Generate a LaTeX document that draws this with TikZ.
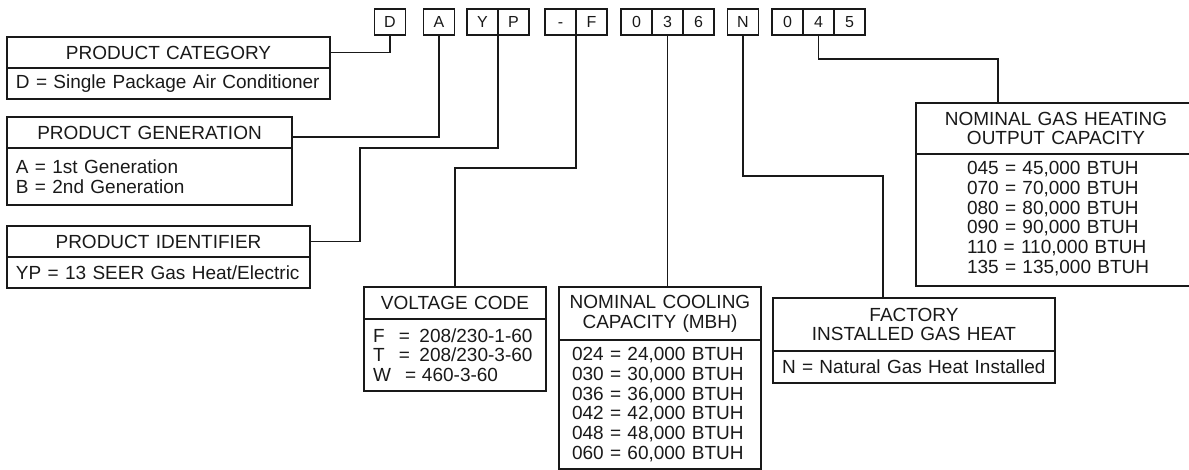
\documentclass[tikz,border=0pt]{standalone}
\usepackage{fontspec}
\setmainfont{Liberation Sans}
\usetikzlibrary{positioning}
\newcommand\keyfont{\fontsize{19}{19.7}\selectfont}
\newcommand\codefont{\fontsize{16}{16}\selectfont}

\begin{document}
\begin{tikzpicture}[x=1pt, y=-1pt, color=black!90, line width=1.6pt,
        letter/.style = {draw, minimum width=31pt, minimum height=26pt, inner sep=0pt, outer sep=0pt, text height=11.5pt, text depth=0pt, font=\codefont},
        title/.style = {draw, inner sep=0pt, outer sep=0pt, align=center, font=\keyfont},
        entry/.style = {draw, inner ysep=0pt, inner xsep=9pt, outer sep=0pt, align=left, font=\keyfont}
    ]
    \useasboundingbox (0,0) rectangle (1189,470);

    % Code letters
    \node (d) [letter] at (390,22) {D};
    \node (a) [letter] at (439,22) {A};
    \node (y) [letter] at (482.5,22) {Y};
    \node (p) [letter, right=0pt of y] {P};
    \node (dash) [letter] at (560.5,22) {-};
    \node (f) [letter, right=0pt of dash] {F};
    \node (zero) [letter] at (636.5,22) {0};
    \node (three) [letter, right=0pt of zero] {3};
    \node (six) [letter, right=0pt of three] {6};
    \node (n) [letter] at (743,22) {N};
    \node (hzero) [letter] at (787.5,22) {0};
    \node (four) [letter, right=0pt of hzero] {4};
    \node (five) [letter, right=0pt of four] {5};

    % Key boxes
    \node (cattitle) [title, text width=323pt, minimum height=31pt, anchor=north west] at (7,37) {PRODUCT CATEGORY};
    \node (catbody) [entry, text width=305pt, minimum height=31pt, below=0pt of cattitle] {D = Single Package Air Conditioner};

    \node (gentitle) [title, text width=285pt, minimum height=31pt, anchor=north west] at (7,117) {PRODUCT GENERATION};
    \node (genbody) [entry, text width=267pt, minimum height=57pt, below=0pt of gentitle] {A = 1st Generation\\B = 2nd Generation};

    \node (idtitle) [title, text width=303pt, minimum height=31pt, anchor=north west] at (7,226) {PRODUCT IDENTIFIER};
    \node (idbody) [entry, text width=285pt, minimum height=31pt, below=0pt of idtitle] {YP = 13 SEER Gas Heat/Electric};

    \node (volttitle) [title, text width=182pt, minimum height=32pt, anchor=north west] at (364,287) {VOLTAGE CODE};
    \node (voltbody) [entry, text width=164pt, minimum height=72pt, below=0pt of volttitle] {F\hspace{0.75em}=\hspace{0.5em}208/230-1-60\\T\hspace{0.75em}=\hspace{0.5em}208/230-3-60\\W\hspace{0.75em}=\hspace{0.3em}460-3-60};

    \node (cooltitle) [title, text width=202pt, minimum height=53pt, anchor=north west] at (559,287) {NOMINAL COOLING\\CAPACITY (MBH)};
    \node (coolbody) [entry, inner xsep=13pt, text width=176pt, minimum height=129pt, below=0pt of cooltitle] {024 = 24,000 BTUH\\030 = 30,000 BTUH\\036 = 36,000 BTUH\\042 = 42,000 BTUH\\048 = 48,000 BTUH\\060 = 60,000 BTUH};

    \node (facttitle) [title, text width=282pt, minimum height=53pt, anchor=north west] at (773,298) {FACTORY\\INSTALLED GAS HEAT};
    \node (factbody) [entry, text width=264pt, minimum height=32pt, below=0pt of facttitle] {N = Natural Gas Heat Installed};

    \node (heattitle) [title, text width=280pt, minimum height=51pt, anchor=north west] at (916,103) {NOMINAL GAS HEATING\\OUTPUT CAPACITY};
    \node (heatbody) [entry, inner xsep=51pt, text width=178pt, minimum height=132pt, below=0pt of heattitle] {\begin{tabular}{@{}l@{}}045 = 45,000 BTUH\\070 = 70,000 BTUH\\080 = 80,000 BTUH\\090 = 90,000 BTUH\\110 = 110,000 BTUH\\135 = 135,000 BTUH\end{tabular}};

    % Bends
    \coordinate (ybend) at (360,148);
    \coordinate (fbend) at (455,168);
    \coordinate (nbend) at (883,176);
    \coordinate (hbend) at (998,59);

    % Connectors
    \draw (d.south) |- (cattitle.east);
    \draw (a.south) |- ([yshift=-4.5pt]gentitle.east);
    \draw (p.south west) |- (ybend) |- (idtitle.east);
    \draw (f.south west) |- (fbend) -- (volttitle.north);
    \draw (three.south) -- (three.south |- cooltitle.north);
    \draw (n.south) |- (nbend) -- (nbend |- facttitle.north);
    \draw (four.south) |- (hbend) -- (hbend |- heattitle.north);

\end{tikzpicture}
\end{document}
